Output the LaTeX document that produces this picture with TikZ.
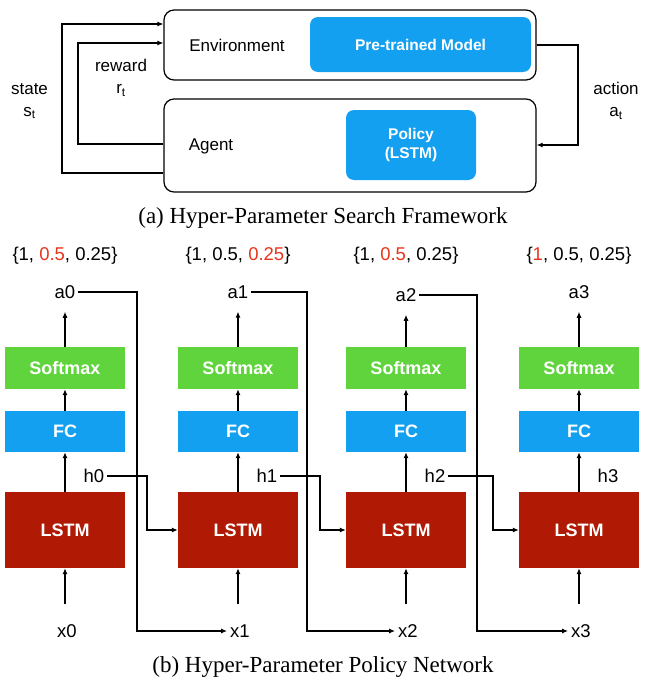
\documentclass[tikz,border=0pt]{standalone}
\usepackage{fontspec}
\setmainfont{Liberation Serif}
\setsansfont{Liberation Sans}
\usetikzlibrary{arrows.meta}
\definecolor{myblue}{RGB}{20,160,240}
\definecolor{mygreen}{RGB}{96,212,60}
\definecolor{myred}{RGB}{176,26,4}
\definecolor{numred}{RGB}{232,52,28}
\begin{document}
\begin{tikzpicture}[x=1pt,y=-1pt,
  frame/.style={draw,line width=1.2pt,rounded corners=10pt,inner sep=0pt},
  bluebox/.style={fill=myblue,rounded corners=8pt,text=white,inner sep=0pt,
    font=\sffamily\bfseries\fontsize{15.5}{19}\selectfont,align=center},
  toplbl/.style={font=\sffamily\fontsize{17}{22}\selectfont,align=center,inner sep=1pt},
  lbl/.style={font=\sffamily\fontsize{18.5}{22}\selectfont,inner xsep=3pt,inner ysep=1pt},
  netbox/.style={minimum width=120pt,inner sep=0pt,text=white,
    font=\sffamily\bfseries\fontsize{18}{22}\selectfont},
  smbox/.style={netbox,fill=mygreen,minimum height=42pt},
  fcbox/.style={netbox,fill=myblue,minimum height=41pt},
  lsbox/.style={netbox,fill=myred,minimum height=76pt},
  captext/.style={font=\fontsize{23}{27}\selectfont},
  arr/.style={line width=1.1pt,-{Latex[length=6pt,width=5pt]}},
]
\useasboundingbox (0,0) rectangle (647,688);

% ---------- (a) ----------
\node[frame,minimum width=372pt,minimum height=70pt] (env) at (350,45) {};
\node[frame,minimum width=372pt,minimum height=93pt] (agent) at (350,145.5) {};
\node[bluebox,minimum width=221pt,minimum height=55pt] (ptm) at (420.5,44.5) {Pre-trained Model};
\node[bluebox,minimum width=130pt,minimum height=70pt] (pol) at (411,145) {Policy\\(LSTM)};
\node[toplbl] (envt) at (237,45) {Environment};
\node[toplbl] (agt) at (211,146) {Agent};
\node[toplbl] (state) at (29.5,101) {state\\s\textsubscript{t}};
\node[toplbl] (reward) at (121,78) {reward\\r\textsubscript{t}};
\node[toplbl] (action) at (616,101) {action\\a\textsubscript{t}};

\coordinate (sB) at (62,173);
\coordinate (sT) at (62,24);
\coordinate (rB) at (78,144);
\coordinate (rT) at (78,43);
\coordinate (aT) at (578,45);
\coordinate (aB) at (578,145);
\draw[arr] (agent.west |- sB) -- (sB) -- (sT) -- (env.west |- sT);
\draw[arr] (agent.west |- rB) -- (rB) -- (rT) -- (env.west |- rT);
\draw[arr] (env.east |- aT) -- (aT) -- (aB) -- (agent.east |- aB);

\node[captext] (capa) at (323,218) {(a) Hyper-Parameter Search Framework};

% ---------- (b) ----------
\foreach \i/\cx/\ay/\setl in {0/65/292/{\{1, \textcolor{numred}{0.5}, 0.25\}},
                         1/238/292/{\{1, 0.5, \textcolor{numred}{0.25}\}},
                         2/406/295/{\{1, \textcolor{numred}{0.5}, 0.25\}},
                         3/579/292/{\{\textcolor{numred}{1}, 0.5, 0.25\}}}{
  \node[lbl] (set\i) at (\cx,256) {\setl};
  \node[lbl] (a\i) at (\cx,\ay) {a\i};
  \node[smbox] (sm\i) at (\cx,368) {Softmax};
  \node[fcbox] (fc\i) at (\cx,431.5) {FC};
  \node[lsbox] (ls\i) at (\cx,530) {LSTM};
  \node[lbl] (h\i) at (\cx+29,476) {h\i};
  \node[lbl] (x\i) at (\cx+2,631) {x\i};
  \draw[arr,shorten >=12pt] (sm\i.north) -- (sm\i.north |- a\i.south);
  \draw[arr] (fc\i.north) -- (sm\i.south);
  \draw[arr] (ls\i.north) -- (fc\i.south);
  \draw[arr,shorten <=19pt] (ls\i.south |- x\i.north) -- (ls\i.south);
}

\coordinate (ac0) at (137,631);
\coordinate (ac1) at (307,631);
\coordinate (ac2) at (477,631);
\coordinate (hc0) at (147,530);
\coordinate (hc1) at (320,530);
\coordinate (hc2) at (493,530);

\draw[arr] (a0.east) -| (ac0) -- (x1.west);
\draw[arr] (a1.east) -| (ac1) -- (x2.west);
\draw[arr] (a2.east) -| (ac2) -- (x3.west);
\draw[arr] (h0.east) -| (hc0) -- (ls1.west);
\draw[arr] (h1.east) -| (hc1) -- (ls2.west);
\draw[arr] (h2.east) -| (hc2) -- (ls3.west);

\node[captext] (capb) at (323,667) {(b) Hyper-Parameter Policy Network};
\end{tikzpicture}
\end{document}
